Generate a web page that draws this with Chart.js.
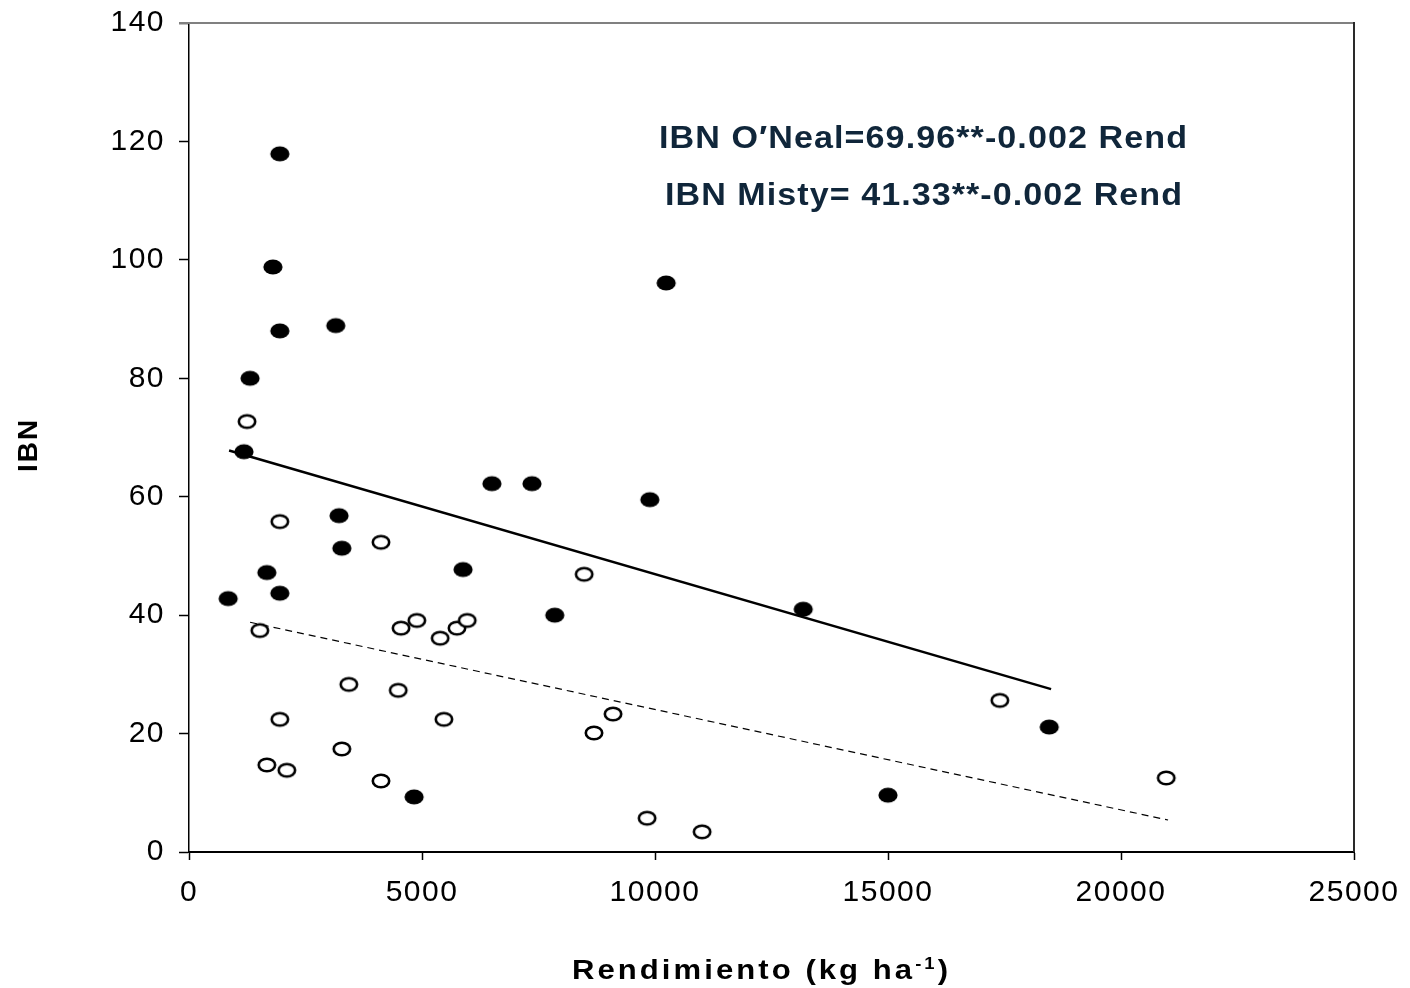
<!DOCTYPE html>
<html>
<head>
<meta charset="utf-8">
<script src="https://cdn.jsdelivr.net/npm/chart.js@4.4.1/dist/chart.umd.min.js"></script>
<style>
  html, body { margin: 0; padding: 0; background: #fff; }
  #wrap { width: 1410px; height: 988px; position: relative; }
</style>
</head>
<body>
<div id="wrap"><canvas id="ibnChart"></canvas></div>
<script>
// IBN vs rendimiento, O'Neal (relleno) y Misty (vacío)
const onealX = [1950, 1800, 1950, 3150, 1310, 1180, 10240, 6500, 7360, 9890, 3220, 3280, 1670, 5880, 840, 1950, 7850, 13180, 4830, 15000, 18460];
const onealY = [117.9, 98.8, 88.0, 88.9, 80.0, 67.6, 96.1, 62.2, 62.2, 59.5, 56.8, 51.3, 47.2, 47.7, 42.8, 43.7, 40.0, 41.0, 9.3, 9.6, 21.1];

const mistyX = [1245, 1950, 4120, 8480, 1520, 4550, 4890, 5390, 5750, 5970, 3430, 4490, 1950, 5470, 9100, 8690, 3280, 1670, 2100, 4120, 9830, 11010, 17400, 20970];
const mistyY = [72.7, 55.8, 52.3, 46.9, 37.4, 37.8, 39.1, 36.1, 37.8, 39.1, 28.3, 27.3, 22.4, 22.4, 23.3, 20.1, 17.4, 14.7, 13.8, 12.0, 5.7, 3.4, 25.6, 12.5];

// rectas de regresión (extremos)
const onealFitX = [860, 18500];
const onealFitY = [67.8, 27.5];
const mistyFitX = [1310, 21010];
const mistyFitY = [38.8, 5.4];

const xTicks = [0, 5000, 10000, 15000, 20000, 25000];
const yTicks = [0, 20, 40, 60, 80, 100, 120, 140];

const equations = [
  'IBN O\u2032Neal=69.96**-0.002 Rend',
  'IBN Misty= 41.33**-0.002 Rend'
];
const xTitle = ['Rendimiento (kg ha', '-1', ')'];
const yTitle = 'IBN';

const toPoints = (xs, ys) => xs.map((x, i) => ({ x, y: ys[i] }));

// marcadores elípticos como en el original
const makeMarker = (filled) => {
  const c = document.createElement('canvas');
  c.width = 22;
  c.height = 18;
  const g = c.getContext('2d');
  g.beginPath();
  if (filled) {
    g.ellipse(11, 9, 9.6, 7.6, 0, 0, Math.PI * 2);
    g.fillStyle = '#000';
    g.fill();
  } else {
    g.ellipse(11, 9, 8.2, 6.3, 0, 0, Math.PI * 2);
    g.fillStyle = '#fff';
    g.fill();
    g.lineWidth = 2.6;
    g.strokeStyle = '#000';
    g.stroke();
  }
  return c;
};

const fillMarker = makeMarker(true);
const openMarker = makeMarker(false);

// escribe un texto algo ensanchado, ajustando el espaciado a un ancho dado
const drawSpread = (ctx, parts, left, right, baseline, sx) => {
  ctx.save();
  ctx.letterSpacing = '0px';
  let natural = 0;
  let count = 0;
  parts.forEach(p => {
    ctx.font = p.font;
    natural += ctx.measureText(p.text).width;
    count += [...p.text].length;
  });
  const sp = Math.max(((right - left) / sx - natural) / (count - 1), 0);
  ctx.letterSpacing = sp + 'px';
  ctx.textAlign = 'left';
  ctx.textBaseline = 'alphabetic';
  ctx.translate(left, baseline);
  ctx.scale(sx, 1);
  let x = 0;
  parts.forEach(p => {
    ctx.font = p.font;
    ctx.fillText(p.text, x, -(p.rise || 0));
    x += ctx.measureText(p.text).width;
  });
  ctx.restore();
};

const decorPlugin = {
  id: 'decor',
  beforeDraw(chart) {
    chart.ctx.letterSpacing = '1.5px';
  },
  afterDraw(chart) {
    const { ctx, chartArea } = chart;
    ctx.save();
    ctx.letterSpacing = '0px';

    // marco superior y derecho
    ctx.lineWidth = 2;
    ctx.strokeStyle = '#808080';
    ctx.beginPath();
    ctx.moveTo(chartArea.left - 10, chartArea.top);
    ctx.lineTo(chartArea.right, chartArea.top);
    ctx.stroke();
    ctx.strokeStyle = '#2a2a2a';
    ctx.beginPath();
    ctx.moveTo(chartArea.right, chartArea.top - 1);
    ctx.lineTo(chartArea.right, chartArea.bottom);
    ctx.stroke();

    // ecuaciones
    ctx.fillStyle = '#10263a';
    const eqFont = 'bold 31px "Liberation Sans", Arial, sans-serif';
    drawSpread(ctx, [{ text: equations[0], font: eqFont }], 659, 1187, 148, 1.1);
    drawSpread(ctx, [{ text: equations[1], font: eqFont }], 665, 1182, 205, 1.1);

    // título eje X con superíndice
    ctx.fillStyle = '#000';
    drawSpread(ctx, [
      { text: xTitle[0], font: 'bold 27px "Liberation Sans", Arial, sans-serif' },
      { text: xTitle[1], font: 'bold 16px "Liberation Sans", Arial, sans-serif', rise: 10 },
      { text: xTitle[2], font: 'bold 27px "Liberation Sans", Arial, sans-serif' }
    ], 572, 948, 979, 1.15);

    // título eje Y
    ctx.translate(37, 445);
    ctx.rotate(-Math.PI / 2);
    ctx.font = 'bold 28px "Liberation Sans", Arial, sans-serif';
    ctx.letterSpacing = '2px';
    ctx.textAlign = 'center';
    ctx.textBaseline = 'alphabetic';
    ctx.fillText(yTitle, 0, 0);
    ctx.restore();
    ctx.letterSpacing = '0px';
  }
};

const tickFont = { family: '"Liberation Sans", Arial, sans-serif', size: 30 };

const ctx = document.getElementById('ibnChart').getContext('2d');
const ibnChart = new Chart(ctx, {
  type: 'scatter',
  data: {
    datasets: [
      {
        label: "O'Neal",
        data: toPoints(onealX, onealY),
        pointStyle: fillMarker,
        pointRadius: 9,
      },
      {
        label: 'Misty',
        data: toPoints(mistyX, mistyY),
        pointStyle: openMarker,
        pointRadius: 9,
      },
      {
        type: 'line',
        label: "Ajuste O'Neal",
        data: toPoints(onealFitX, onealFitY),
        borderColor: '#000',
        borderWidth: 2.5,
        pointRadius: 0,
        fill: false,
      },
      {
        type: 'line',
        label: 'Ajuste Misty',
        data: toPoints(mistyFitX, mistyFitY),
        borderColor: '#000',
        borderWidth: 1.2,
        borderDash: [7, 5],
        pointRadius: 0,
        fill: false,
      }
    ]
  },
  options: {
    responsive: true,
    maintainAspectRatio: false,
    animation: false,
    layout: { padding: { top: 23, right: 56, left: 0, bottom: 0 } },
    plugins: {
      legend: { display: false },
      tooltip: { enabled: false }
    },
    scales: {
      x: {
        type: 'linear',
        min: xTicks[0],
        max: xTicks[xTicks.length - 1],
        afterBuildTicks: (scale) => { scale.ticks = xTicks.map(v => ({ value: v })); },
        afterFit: (scale) => {
          scale.height = 136;
          scale.paddingLeft = 0;
          scale.paddingRight = 0;
        },
        grid: { display: true, drawOnChartArea: false, drawTicks: true, tickLength: 8, tickColor: '#000', tickWidth: 1.5 },
        border: { display: true, color: '#000', width: 2 },
        ticks: { color: '#000', font: tickFont, padding: 15, maxRotation: 0, callback: (v) => String(v) },
        title: { display: false }
      },
      y: {
        type: 'linear',
        min: yTicks[0],
        max: yTicks[yTicks.length - 1],
        afterBuildTicks: (scale) => { scale.ticks = yTicks.map(v => ({ value: v })); },
        afterFit: (scale) => {
          scale.width = 189;
          scale.paddingTop = 0;
          scale.paddingBottom = 0;
        },
        grid: { display: true, drawOnChartArea: false, drawTicks: true, tickLength: 10, tickColor: '#000', tickWidth: 1.5 },
        border: { display: true, color: '#000', width: 1.5 },
        ticks: { color: '#000', font: tickFont, padding: 14, callback: (v) => String(v) },
        title: { display: false }
      }
    }
  },
  plugins: [decorPlugin]
});
</script>
</body>
</html>
